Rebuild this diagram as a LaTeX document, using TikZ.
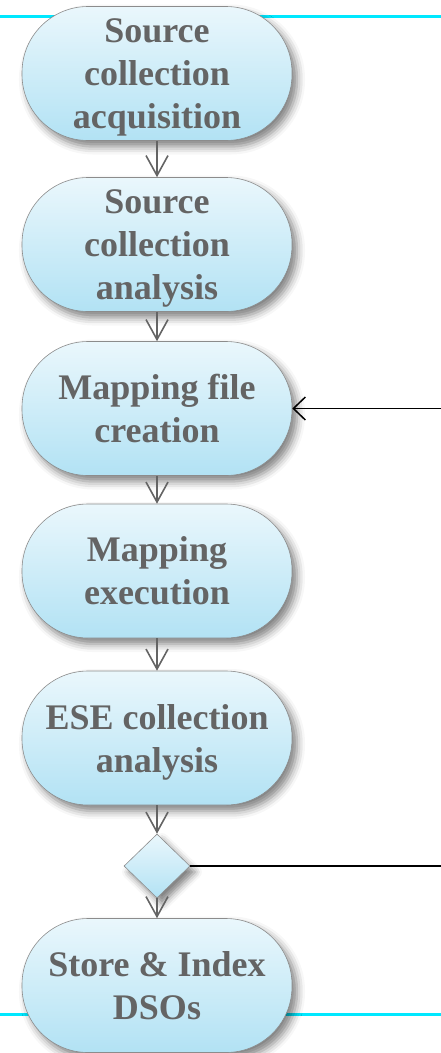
\documentclass[tikz,border=0pt]{standalone}
\usepackage{fontspec}
\setmainfont{Liberation Serif}
\usetikzlibrary{arrows.meta,shapes.geometric,shadows.blur}
\definecolor{txtgray}{HTML}{646464}
\definecolor{topfill}{HTML}{EAF7FC}
\definecolor{botfill}{HTML}{B2E2F4}
\definecolor{edgegray}{HTML}{8C8C8C}
\definecolor{cyanline}{HTML}{00E8FF}
\newcommand{\nodesc}[1]{\raisebox{0pt}[\height][0pt]{#1}}
\tikzset{
  stepbox/.style={draw=edgegray, line width=0.6pt, rounded corners=66pt,
    minimum width=270pt, minimum height=134pt, inner sep=0pt,
    top color=topfill, bottom color=botfill,
    blur shadow={shadow xshift=5pt, shadow yshift=-6pt, shadow blur radius=8pt, shadow opacity=50},
    align=center, text=txtgray,
    font=\fontsize{36}{43}\selectfont\bfseries},
  decision/.style={diamond, draw=edgegray, line width=0.6pt, inner sep=0pt,
    minimum width=66pt, minimum height=64pt,
    top color=topfill, bottom color=botfill,
    blur shadow={shadow xshift=5pt, shadow yshift=-6pt, shadow blur radius=7pt, shadow opacity=50}},
  flow/.style={draw=txtgray, line width=1.4pt,
    -{Straight Barb[length=20pt,width=22pt,line width=1.6pt]}},
  fb/.style={draw=black, line width=1.5pt,
    -{Straight Barb[length=12pt,width=23pt,line width=1.5pt]}},
  plain/.style={draw=black, line width=1.8pt},
  band/.style={draw=cyanline, line width=3pt}
}
\begin{document}
\begin{tikzpicture}[x=1pt,y=-1pt]
\useasboundingbox (0,0) rectangle (441,1053);
\coordinate (tl) at (0,16);
\coordinate (tr) at (441,16);
\coordinate (bl) at (0,1014);
\coordinate (br) at (441,1014);
\draw[band] (tl) -- (tr);
\draw[band] (bl) -- (br);

\node[stepbox] (n1) at (157,73.5) {Source\\collection\\\nodesc{acquisition}};
\node[stepbox] (n2) at (157,244.5) {Source\\collection\\\nodesc{analysis}};
\node[stepbox] (n3) at (157,408.5) {Mapping file\\creation};
\node[stepbox] (n4) at (157,571) {Mapping\\execution};
\node[stepbox] (n5) at (157,738) {ESE collection\\\nodesc{analysis}};
\node[decision] (d) at (157,866) {};
\node[stepbox] (n6) at (157,985.5) {Store \& Index\\DSOs};

\coordinate (rin) at (441,408.5);
\coordinate (rout) at (441,866);

\draw[flow] (n1) -- (n2);
\draw[flow] (n2) -- (n3);
\draw[flow] (n3) -- (n4);
\draw[flow] (n4) -- (n5);
\draw[flow] (n5) -- (d);
\draw[flow] (d) -- (n6);
\draw[fb] (rin) -- (n3.east);
\draw[plain] (d.east) -- (rout);
\end{tikzpicture}
\end{document}
